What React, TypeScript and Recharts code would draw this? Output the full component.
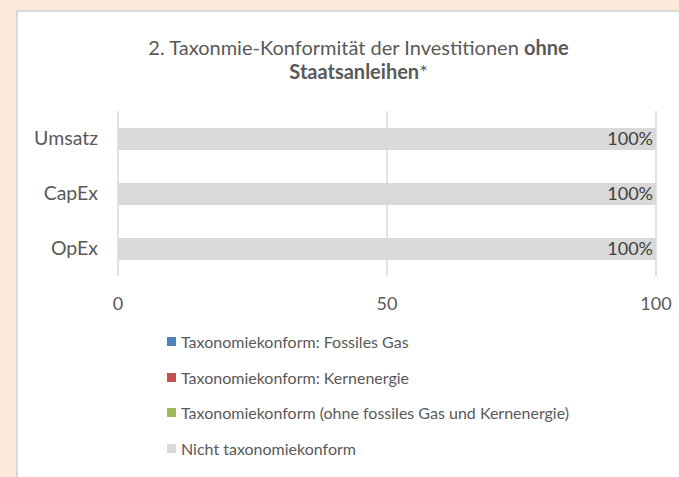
import { Bar, BarChart, CartesianGrid, LabelList, XAxis, YAxis } from "recharts";

const categories = ["Umsatz", "CapEx", "OpEx"];
const fossilGas = [0, 0, 0];
const nuclear = [0, 0, 0];
const aligned = [0, 0, 0];
const notAligned = [100, 100, 100];
const xTicks = [0, 50, 100];

const series = [
    { key: "gas", name: "Taxonomiekonform: Fossiles Gas", color: "#4f81bd" },
    { key: "nuclear", name: "Taxonomiekonform: Kernenergie", color: "#c0504d" },
    { key: "aligned", name: "Taxonomiekonform (ohne fossiles Gas und Kernenergie)", color: "#9bbb59" },
    { key: "non", name: "Nicht taxonomiekonform", color: "#d9d9d9" },
];

const data = categories.map((name, i) => ({
    name,
    gas: fossilGas[i],
    nuclear: nuclear[i],
    aligned: aligned[i],
    non: notAligned[i],
}));

const font = "Lato, 'Open Sans', sans-serif";
const textColor = "#595959";

const App = () => {
    return (
        <div style={{ position: "absolute", left: 0, top: 0, width: 679, height: 477, background: "#fde9d9", overflow: "hidden", fontFamily: font }}>
            <div
                style={{
                    position: "absolute",
                    left: 16,
                    top: 10,
                    width: 700,
                    height: 500,
                    background: "#ffffff",
                    borderLeft: "2px solid #d9d9d9",
                    borderTop: "2px solid #d9d9d9",
                }}
            />
            <div
                style={{
                    position: "absolute",
                    left: 0,
                    top: 35,
                    width: 717,
                    textAlign: "center",
                    fontSize: 20,
                    lineHeight: "24px",
                    color: textColor,
                }}
            >
                2. Taxonmie-Konformität der Investitionen <b>ohne</b>
                <br />
                <b>Staatsanleihen</b>*
            </div>
            <div style={{ position: "absolute", left: 0, top: 0 }}>
                <BarChart
                    width={679}
                    height={477}
                    data={data}
                    layout="vertical"
                    margin={{ top: 111, right: 23, bottom: 171, left: 0 }}
                    barSize={22}
                >
                    <CartesianGrid horizontal={false} stroke="#d9d9d9" strokeWidth={1.5} />
                    <XAxis
                        type="number"
                        domain={[0, 100]}
                        ticks={xTicks}
                        axisLine={false}
                        tickLine={false}
                        tickSize={0}
                        tickMargin={21}
                        height={30}
                        tick={{ fontSize: 18, fill: textColor, fontFamily: font }}
                    />
                    <YAxis
                        type="category"
                        dataKey="name"
                        width={118}
                        axisLine={false}
                        tickLine={false}
                        tickSize={0}
                        tickMargin={20}
                        tick={{ fontSize: 19.5, fill: textColor, fontFamily: font }}
                    />
                    {series.map((s) => (
                        <Bar key={s.key} dataKey={s.key} name={s.name} stackId="a" fill={s.color} isAnimationActive={false}>
                            {s.key === "non" && (
                                <LabelList
                                    dataKey="non"
                                    position="insideRight"
                                    offset={3}
                                    formatter={(v: number) => `${v}%`}
                                    style={{ fontSize: 18, fill: "#404040", fontFamily: font }}
                                />
                            )}
                        </Bar>
                    ))}
                </BarChart>
            </div>
            <div style={{ position: "absolute", left: 167, top: 324 }}>
                {series.map((s) => (
                    <div key={s.key} style={{ display: "flex", alignItems: "center", height: 35.5, fontSize: 16, color: textColor }}>
                        <span style={{ width: 9, height: 9, background: s.color, marginRight: 5, display: "inline-block", flexShrink: 0 }} />
                        {s.name}
                    </div>
                ))}
            </div>
        </div>
    );
};

export default App;
